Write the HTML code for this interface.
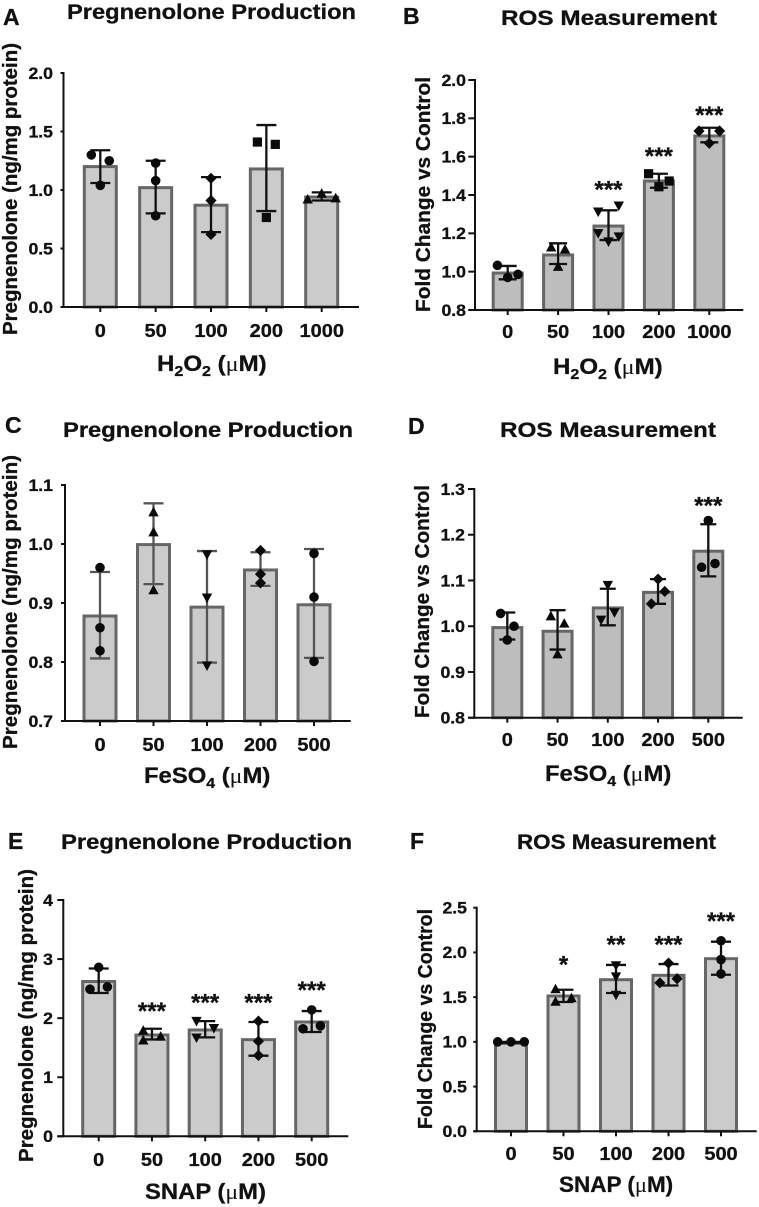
<!DOCTYPE html>
<html lang="en">
<head>
<meta charset="utf-8">
<title>Pregnenolone Production and ROS Measurement</title>
<style>
html,body{margin:0;padding:0;background:#fff;width:759px;height:1207px;overflow:hidden}
svg{display:block;filter:blur(.35px)}
text{font-family:"Liberation Sans",Arial,sans-serif;font-weight:bold;fill:#111;stroke:#111;stroke-width:.3px}
.letter{font-size:23px}
.title{font-size:21px}
.ylab{font-size:20px}
.xlab{font-size:22.5px}
.mu{font-family:"Liberation Serif",serif;font-weight:normal;stroke-width:0}
</style>
</head>
<body>
<svg id="figure" xmlns="http://www.w3.org/2000/svg" width="759" height="1207" viewBox="0 0 759 1207">
  <rect x="0" y="0" width="759" height="1207" fill="#fff"/>

  <text class="letter" x="3" y="25">A</text>
  <text class="title" x="67" y="19" textLength="289" lengthAdjust="spacingAndGlyphs">Pregnenolone Production</text>
  <text class="ylab" transform="translate(17,335) rotate(-90)" textLength="292" lengthAdjust="spacingAndGlyphs">Pregnenolone (ng/mg protein)</text>
  <text class="xlab" transform="translate(157,371) scale(1.07,1)">H<tspan dy="5" font-size="15">2</tspan><tspan dy="-5">O</tspan><tspan dy="5" font-size="15">2</tspan><tspan dy="-5"> (</tspan><tspan class="mu">μ</tspan>M)</text>

  <text class="letter" x="403" y="24">B</text>
  <text class="title" x="501" y="25" textLength="216" lengthAdjust="spacingAndGlyphs">ROS Measurement</text>
  <text class="ylab" transform="translate(430,312) rotate(-90)" textLength="235" lengthAdjust="spacingAndGlyphs">Fold Change vs Control</text>
  <text class="xlab" transform="translate(553,374) scale(1.07,1)">H<tspan dy="5" font-size="15">2</tspan><tspan dy="-5">O</tspan><tspan dy="5" font-size="15">2</tspan><tspan dy="-5"> (</tspan><tspan class="mu">μ</tspan>M)</text>

  <text class="letter" x="5" y="433">C</text>
  <text class="title" x="63" y="437" textLength="290" lengthAdjust="spacingAndGlyphs">Pregnenolone Production</text>
  <text class="ylab" transform="translate(17,749) rotate(-90)" textLength="294" lengthAdjust="spacingAndGlyphs">Pregnenolone (ng/mg protein)</text>
  <text class="xlab" transform="translate(144,783) scale(1.06,1)">FeSO<tspan dy="5" font-size="15">4</tspan><tspan dy="-5"> (</tspan><tspan class="mu">μ</tspan>M)</text>

  <text class="letter" x="408" y="434">D</text>
  <text class="title" x="500" y="437" textLength="216" lengthAdjust="spacingAndGlyphs">ROS Measurement</text>
  <text class="ylab" transform="translate(429,718) rotate(-90)" textLength="233" lengthAdjust="spacingAndGlyphs">Fold Change vs Control</text>
  <text class="xlab" transform="translate(545,781) scale(1.06,1)">FeSO<tspan dy="5" font-size="15">4</tspan><tspan dy="-5"> (</tspan><tspan class="mu">μ</tspan>M)</text>

  <text class="letter" x="8" y="849">E</text>
  <text class="title" x="61" y="849" textLength="291" lengthAdjust="spacingAndGlyphs">Pregnenolone Production</text>
  <text class="ylab" transform="translate(33,1162) rotate(-90)" textLength="293" lengthAdjust="spacingAndGlyphs">Pregnenolone (ng/mg protein)</text>
  <text class="xlab" transform="translate(145,1199) scale(1.06,1)">SNAP (<tspan class="mu">μ</tspan>M)</text>

  <text class="letter" x="410" y="849">F</text>
  <text class="title" x="517" y="849" textLength="199" lengthAdjust="spacingAndGlyphs">ROS Measurement</text>
  <text class="ylab" transform="translate(432,1129) rotate(-90)" textLength="220" lengthAdjust="spacingAndGlyphs">Fold Change vs Control</text>
  <text class="xlab" transform="translate(559,1192) scale(1.0,1)">SNAP (<tspan class="mu">μ</tspan>M)</text>
</svg>

<script>
// Panel A
const categoriesA = ['0', '50', '100', '200', '1000'];
const yTicksA = ['0.0', '0.5', '1.0', '1.5', '2.0'];
const meansA = [1.2, 1.02, 0.87, 1.18, 0.94];
const upperA = [1.34, 1.25, 1.11, 1.555, 0.98];
const lowerA = [1.06, 0.8, 0.64, 0.82, 0.91];
const pointsA = [[1.3, 1.25, 1.04], [1.23, 1.08, 0.78], [1.1, 0.91, 0.62], [1.41, 1.39, 0.765], [0.92, 0.97, 0.93]];
const jitterA = [[-0.64, 0.64, 0], [0, 0, 0], [0, 0, 0], [-0.64, 0.64, 0], [-1, 0, 1]];
const markersA = ['circle', 'circle', 'diamond', 'square', 'up'];
const starsA = ['', '', '', '', ''];
const starLevelA = [0, 0, 0, 0, 0];

// Panel B
const categoriesB = ['0', '50', '100', '200', '1000'];
const yTicksB = ['0.8', '1.0', '1.2', '1.4', '1.6', '1.8', '2.0'];
const meansB = [0.993, 1.087, 1.238, 1.473, 1.708];
const upperB = [1.03, 1.148, 1.32, 1.511, 1.751];
const lowerB = [0.96, 1.04, 1.165, 1.438, 1.675];
const pointsB = [[1.033, 0.986, 0.97], [1.127, 1.117, 1.026], [1.344, 1.313, 1.2, 1.183, 1.157], [1.511, 1.473, 1.443], [1.734, 1.734, 1.67]];
const jitterB = [[-1, 1, 0], [-0.67, 0.67, 0], [1, -1, -1, 1, 0], [-1, 1, 0], [-1, 1, 0]];
const markersB = ['circle', 'up', 'down', 'square', 'diamond'];
const starsB = ['', '', '***', '***', '***'];
const starLevelB = [0, 0, 1.443, 1.616, 1.831];

// Panel C
const categoriesC = ['0', '50', '100', '200', '500'];
const yTicksC = ['0.7', '0.8', '0.9', '1.0', '1.1'];
const meansC = [0.878, 0.999, 0.893, 0.956, 0.897];
const upperC = [0.9525, 1.069, 0.988, 0.986, 0.9915];
const lowerC = [0.806, 0.932, 0.799, 0.929, 0.807];
const pointsC = [[0.96, 0.858, 0.819], [1.054, 1.02, 0.922], [0.982, 0.909, 0.794], [0.989, 0.949, 0.934], [0.984, 0.91, 0.801]];
const jitterC = [[0, 0, 0], [0, 0, 0], [0, 0, 0], [0, 0, 0], [0, 0, 0]];
const markersC = ['circle', 'up', 'down', 'diamond', 'circle'];
const starsC = ['', '', '', '', ''];
const starLevelC = [0, 0, 0, 0, 0];

// Panel D
const categoriesD = ['0', '50', '100', '200', '500'];
const yTicksD = ['0.8', '0.9', '1.0', '1.1', '1.2', '1.3'];
const meansD = [0.997, 0.989, 1.04, 1.074, 1.164];
const upperD = [1.03, 1.035, 1.082, 1.103, 1.223];
const lowerD = [0.971, 0.949, 1.002, 1.049, 1.109];
const pointsD = [[1.028, 1.0, 0.97], [1.022, 1.006, 0.939], [1.09, 1.03, 1.014], [1.103, 1.076, 1.049], [1.231, 1.137, 1.129]];
const jitterD = [[-1, 1, 0], [-1, 1, 0], [0, 1, -1], [0, 1, -1], [0, 1, -1]];
const markersD = ['circle', 'up', 'down', 'diamond', 'circle'];
const starsD = ['', '', '', '', '***'];
const starLevelD = [0, 0, 0, 0, 1.269];

// Panel E
const categoriesE = ['0', '50', '100', '200', '500'];
const yTicksE = ['0', '1', '2', '3', '4'];
const meansE = [2.62, 1.715, 1.8, 1.636, 1.935];
const upperE = [2.84, 1.82, 1.95, 1.935, 2.12];
const lowerE = [2.426, 1.64, 1.675, 1.365, 1.766];
const pointsE = [[2.86, 2.53, 2.49], [1.79, 1.69, 1.625], [1.95, 1.83, 1.67], [1.95, 1.61, 1.37], [2.14, 1.87, 1.82]];
const jitterE = [[0, 1, -1], [-1, 1, -1], [-1, 1, -1], [0, 0, 0], [0, 1, -1]];
const markersE = ['circle', 'up', 'down', 'diamond', 'circle'];
const starsE = ['', '***', '***', '***', '***'];
const starLevelE = [0, 2.16, 2.31, 2.31, 2.52];

// Panel F
const categoriesF = ['0', '50', '100', '200', '500'];
const yTicksF = ['0.0', '0.5', '1.0', '1.5', '2.0', '2.5'];
const meansF = [0.987, 1.513, 1.695, 1.744, 1.93];
const upperF = [1.0, 1.583, 1.86, 1.87, 2.12];
const lowerF = [0.985, 1.446, 1.546, 1.63, 1.75];
const pointsF = [[1.0, 1.0, 1.0], [1.59, 1.49, 1.45], [1.855, 1.73, 1.525], [1.88, 1.706, 1.66], [2.13, 1.92, 1.76]];
const jitterF = [[-1, 0, 1], [-0.6, 0.6, -0.6], [0, 0, 0], [0, 0.65, -0.65], [0, 0, 0]];
const markersF = ['circle', 'up', 'down', 'diamond', 'circle'];
const starsF = ['', '*', '**', '***', '***'];
const starLevelF = [0, 1.893, 2.117, 2.117, 2.378];

const SVG_NS = 'http://www.w3.org/2000/svg';
const figure = document.getElementById('figure');

function make(parent, tag, attrs) {
  const el = document.createElementNS(SVG_NS, tag);
  Object.keys(attrs).forEach(function (k) { el.setAttribute(k, attrs[k]); });
  parent.appendChild(el);
  return el;
}

function drawMarker(parent, kind, x, y) {
  const s = 4.8;
  let el;
  if (kind === 'circle') {
    el = make(parent, 'circle', { cx: x, cy: y, r: s, fill: '#0a0a0a' });
  } else if (kind === 'square') {
    el = make(parent, 'rect', { x: x - s + 0.2, y: y - s + 0.2, width: 2 * s - 0.4, height: 2 * s - 0.4, fill: '#0a0a0a' });
  } else if (kind === 'diamond') {
    el = make(parent, 'polygon', { points: [x, y - s - 0.8, x + s + 0.8, y, x, y + s + 0.8, x - s - 0.8, y].join(' '), fill: '#0a0a0a' });
  } else if (kind === 'up') {
    el = make(parent, 'polygon', { points: [x, y - s - 0.6, x + s + 0.4, y + s - 0.6, x - s - 0.4, y + s - 0.6].join(' '), fill: '#0a0a0a' });
  } else {
    el = make(parent, 'polygon', { points: [x, y + s + 0.6, x + s + 0.4, y - s + 0.6, x - s - 0.4, y - s + 0.6].join(' '), fill: '#0a0a0a' });
  }
  
  
}

function drawPanel(id, box, categories, yTicks, means, upper, lower, points, jitter, markers, stars, starLevel) {
  const group = make(figure, 'g', {});
  
  

  const tickValues = yTicks.map(Number);
  const yMin = tickValues[0];
  const yMax = tickValues[tickValues.length - 1];
  const yScale = function (v) { return box.bottom - (v - yMin) / (yMax - yMin) * (box.bottom - box.top); };
  const xScale = function (i) { return box.first + i * box.step; };
  const ink = box.errColor;

  categories.forEach(function (label, i) {
    const cx = xScale(i);
    const bar = make(group, 'rect', {
      x: cx - box.barWidth / 2 + 1.5,
      y: yScale(means[i]),
      width: box.barWidth - 3,
      height: box.bottom - yScale(means[i]),
      fill: box.fill, stroke: '#666', 'stroke-width': 3
    });
    
    

    const stem = make(group, 'line', { x1: cx, x2: cx, y1: yScale(upper[i]), y2: yScale(lower[i]), stroke: ink, 'stroke-width': 2.3 });
    
    
    [upper[i], lower[i]].forEach(function (v) {
      const cap = make(group, 'line', { x1: cx - box.capHalf, x2: cx + box.capHalf, y1: yScale(v), y2: yScale(v), stroke: ink, 'stroke-width': 2.3 });
      
      
    });

    points[i].forEach(function (v, j) {
      drawMarker(group, markers[i], cx + jitter[i][j] * box.gap, yScale(v));
    });

    if (stars[i]) {
      const star = make(group, 'text', { x: cx, y: yScale(starLevel[i]) + 10.5, 'text-anchor': 'middle', 'font-size': 24 });
      star.textContent = stars[i];
      
      
    }

    const tick = make(group, 'line', { x1: cx, x2: cx, y1: box.bottom, y2: box.bottom + 5, stroke: '#111', 'stroke-width': 2 });
    
    

    const tickText = make(group, 'text', {
      transform: 'translate(' + cx + ',' + box.xTickY + ') scale(1.08,1)',
      'text-anchor': 'middle', 'font-size': 18.5
    });
    tickText.textContent = label;
    
    
  });

  const yAxis = make(group, 'line', { x1: box.axisX, x2: box.axisX, y1: box.top - 1, y2: box.bottom + 1, stroke: '#111', 'stroke-width': 2 });
  
  

  const xAxis = make(group, 'line', { x1: box.axisLeft, x2: box.axisRight, y1: box.bottom, y2: box.bottom, stroke: '#111', 'stroke-width': 2 });
  
  

  yTicks.forEach(function (label) {
    const y = yScale(Number(label));
    const tick = make(group, 'line', { x1: box.axisLeft, x2: box.axisX, y1: y, y2: y, stroke: '#111', 'stroke-width': 2 });
    
    

    const tickText = make(group, 'text', {
      transform: 'translate(' + box.yTickRight + ',' + (y + 5.8) + ') scale(1.04,1)',
      'text-anchor': 'end', 'font-size': 17
    });
    tickText.textContent = label;
    
    
  });
}

drawPanel('a', { axisX: 63.5, axisLeft: 60.5, axisRight: 359, top: 73, bottom: 307, first: 100.3, step: 55.35, barWidth: 35, capHalf: 10, gap: 14, fill: '#cbcbcb', errColor: '#111', xTickY: 337, yTickRight: 53 },
  categoriesA, yTicksA, meansA, upperA, lowerA, pointsA, jitterA, markersA, starsA, starLevelA);
drawPanel('b', { axisX: 475, axisLeft: 468.3, axisRight: 743.3, top: 80, bottom: 310, first: 507.7, step: 50.4, barWidth: 32, capHalf: 9, gap: 10.3, fill: '#bdbdbd', errColor: '#111', xTickY: 338, yTickRight: 466 },
  categoriesB, yTicksB, meansB, upperB, lowerB, pointsB, jitterB, markersB, starsB, starLevelB);
drawPanel('c', { axisX: 65, axisLeft: 61, axisRight: 350.7, top: 485, bottom: 721, first: 100, step: 53.5, barWidth: 35, capHalf: 10, gap: 7, fill: '#cbcbcb', errColor: '#555', xTickY: 751, yTickRight: 53 },
  categoriesC, yTicksC, meansC, upperC, lowerC, pointsC, jitterC, markersC, starsC, starLevelC);
drawPanel('d', { axisX: 474.3, axisLeft: 468, axisRight: 742.7, top: 489, bottom: 717.7, first: 507.3, step: 50.25, barWidth: 32, capHalf: 8, gap: 6.7, fill: '#bdbdbd', errColor: '#111', xTickY: 746, yTickRight: 465 },
  categoriesD, yTicksD, meansD, upperD, lowerD, pointsD, jitterD, markersD, starsD, starLevelD);
drawPanel('e', { axisX: 63.3, axisLeft: 57.3, axisRight: 348.3, top: 900, bottom: 1136.3, first: 98.7, step: 53.25, barWidth: 35, capHalf: 10, gap: 8.7, fill: '#cbcbcb', errColor: '#111', xTickY: 1166, yTickRight: 53 },
  categoriesE, yTicksE, meansE, upperE, lowerE, pointsE, jitterE, markersE, starsE, starLevelE);
drawPanel('f', { axisX: 476.7, axisLeft: 473.3, axisRight: 756.7, top: 907.7, bottom: 1131.3, first: 511, step: 52.5, barWidth: 34, capHalf: 10, gap: 13.3, fill: '#cbcbcb', errColor: '#111', xTickY: 1160, yTickRight: 467 },
  categoriesF, yTicksF, meansF, upperF, lowerF, pointsF, jitterF, markersF, starsF, starLevelF);
</script>
</body>
</html>
